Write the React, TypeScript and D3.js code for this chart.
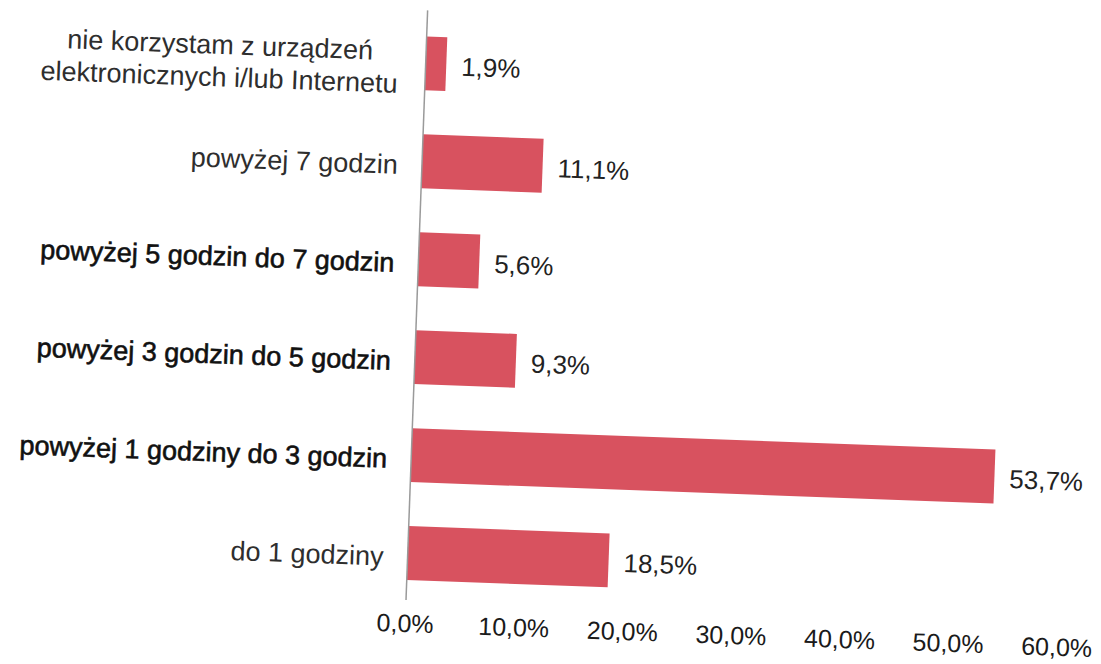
import React from "react";
import * as d3 from "d3";

// answers, top to bottom as drawn
const categories = [
  "nie korzystam z urządzeń\nelektronicznych i/lub Internetu",
  "powyżej 7 godzin",
  "powyżej 5 godzin do 7 godzin",
  "powyżej 3 godzin do 5 godzin",
  "powyżej 1 godziny do 3 godzin",
  "do 1 godziny",
];
const values = [1.9, 11.1, 5.6, 9.3, 53.7, 18.5];
const ticks = [0, 10, 20, 30, 40, 50, 60];

const fmt = (v: number) => v.toFixed(1).replace(".", ",") + "%";

const App = () => {
  const width = 1101;
  const height = 664;
  const axisX = 406;
  const axisBottom = 600;

  // scales
  const x = d3.scaleLinear().domain([0, 60]).range([axisX, axisX + 652]);
  const y = d3
    .scaleBand()
    .domain(categories)
    .range([14, 602])
    .paddingInner(0.45)
    .paddingOuter(0.225);

  const font = "'Liberation Sans', Arial, Helvetica, sans-serif";

  return (
    <svg
      width={width}
      height={height}
      style={{ position: "absolute", left: 0, top: 0, background: "#fff" }}
    >
      {/* scanned page is slightly tilted */}
      <g transform={`rotate(2.1, ${axisX}, ${axisBottom})`} fontFamily={font}>
        {categories.map((c, i) => (
          <rect
            key={c}
            x={x(0)}
            y={y(c)}
            width={x(values[i]) - x(0)}
            height={y.bandwidth()}
            fill="#D8525F"
          />
        ))}

        <line x1={axisX} x2={axisX} y1={10} y2={axisBottom} stroke="#9a9a9a" strokeWidth={1.5} />

        {/* category labels */}
        {categories.map((c, i) => {
          const lines = c.split("\n");
          const cy = (y(c) as number) + y.bandwidth() / 2 + 4;
          if (lines.length > 1) {
            return (
              <text key={c} x={200} y={cy} textAnchor="middle" fontSize={27} fill="#2e2e2e">
                {lines.map((l, k) => (
                  <tspan key={k} x={200} dy={k === 0 ? "-0.22em" : "1.2em"}>
                    {l}
                  </tspan>
                ))}
              </text>
            );
          }
          // a few labels came out darker in the scan
          const dark = i >= 2 && i <= 4;
          return (
            <text
              key={c}
              x={axisX - 24}
              y={cy}
              dy="0.35em"
              textAnchor="end"
              fontSize={27}
              fill={dark ? "#111" : "#2e2e2e"}
              stroke={dark ? "#111" : "none"}
              strokeWidth={dark ? 0.6 : 0}
            >
              {c}
            </text>
          );
        })}

        {/* value labels */}
        {categories.map((c, i) => (
          <text
            key={c}
            x={x(values[i]) + 15}
            y={(y(c) as number) + y.bandwidth() / 2 + 2}
            dy="0.35em"
            fontSize={26}
            fill="#222"
          >
            {fmt(values[i])}
          </text>
        ))}

        {/* x tick labels */}
        {ticks.map((t) => (
          <text key={t} x={x(t)} y={axisBottom + 32} textAnchor="middle" fontSize={25} fill="#1a1a1a">
            {fmt(t)}
          </text>
        ))}
      </g>
    </svg>
  );
};

export default App;
